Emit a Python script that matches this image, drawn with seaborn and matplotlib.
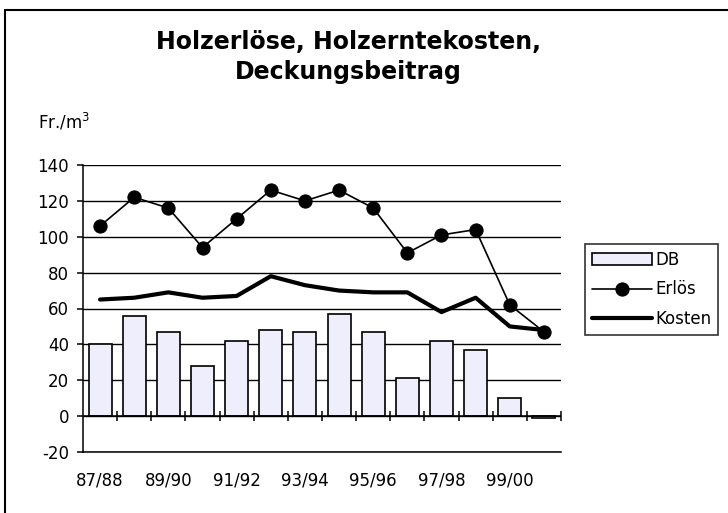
import numpy as np
import matplotlib
matplotlib.use('Agg')
import matplotlib.pyplot as plt
import seaborn as sns

# Data (Fr./m3 per season)
categories = ['87/88', '88/89', '89/90', '90/91', '91/92', '92/93', '93/94',
              '94/95', '95/96', '96/97', '97/98', '98/99', '99/00', '00/01']
db = [40, 56, 47, 28, 42, 48, 47, 57, 47, 21, 42, 37, 10, -1]
erloes = [106, 122, 116, 94, 110, 126, 120, 126, 116, 91, 101, 104, 62, 47]
kosten = [65, 66, 69, 66, 67, 78, 73, 70, 69, 69, 58, 66, 50, 48]
yticks = [-20, 0, 20, 40, 60, 80, 100, 120, 140]

sns.set_style('white')
plt.rcParams['font.family'] = ['DejaVu Sans']
plt.rcParams['text.color'] = 'black'
plt.rcParams['xtick.color'] = 'black'
plt.rcParams['ytick.color'] = 'black'
plt.rcParams['axes.unicode_minus'] = False

fig = plt.figure(figsize=(7.28, 5.13), dpi=100)
ax = fig.add_axes([83 / 728, 1 - 452 / 513, (561 - 83) / 728, (452 - 165) / 513])

x = np.arange(len(categories))

# Bars (DB)
sns.barplot(x=categories, y=db, color='#EEEEFD', saturation=1, edgecolor='black',
            linewidth=1.2, width=0.67, errorbar=None, label='DB', ax=ax, zorder=2)

# Lines
sns.lineplot(x=x, y=erloes, color='black', linewidth=1.2, marker='o', markersize=9.5,
             markeredgecolor='black', label='Erlös', ax=ax, zorder=4)
sns.lineplot(x=x, y=kosten, color='black', linewidth=3, label='Kosten', ax=ax, zorder=3)

# Category axis at zero with tick marks between categories
ax.axhline(0, color='black', linewidth=1.1, zorder=3)
ax.plot(x + 0.5, np.zeros(len(x)), linestyle='none', marker='|', markersize=7,
        markeredgewidth=1.1, color='black', zorder=3)

ax.set_xlim(-0.5, len(categories) - 0.5)
ax.set_ylim(-20, 140)
ax.set_yticks(yticks)
ax.set_xticks(x[::2])
ax.set_xticklabels(categories[::2])
ax.set_xlabel('')
ax.set_ylabel('')

ax.yaxis.grid(True, color='black', linewidth=1.0)
ax.xaxis.grid(False)
ax.set_axisbelow(True)
for side in ['top', 'right']:
    ax.spines[side].set_visible(False)
for side in ['left', 'bottom']:
    ax.spines[side].set_color('black')
    ax.spines[side].set_linewidth(1.1)

ax.tick_params(axis='y', left=True, length=4, width=1.1, color='black', pad=6,
               labelsize=12, labelcolor='black')
ax.tick_params(axis='x', bottom=False, length=0, pad=14, labelsize=12, labelcolor='black')

# Legend
handles, labels = ax.get_legend_handles_labels()
order = [labels.index(k) for k in ['DB', 'Erlös', 'Kosten']]
leg = ax.legend([handles[i] for i in order], [labels[i] for i in order],
                loc='upper left', bbox_to_anchor=(585 / 728, 1 - 244 / 513),
                bbox_transform=fig.transFigure, borderaxespad=0, fontsize=12,
                frameon=True, fancybox=False, handlelength=3.6, handletextpad=0.2,
                labelspacing=0.7, borderpad=0.4, numpoints=1)
leg.get_frame().set_edgecolor('black')
leg.get_frame().set_linewidth(1.2)
for t in leg.get_texts():
    t.set_color('black')

# Titles
fig.text(348 / 728, 1 - 30 / 513, 'Holzerlöse, Holzerntekosten,\nDeckungsbeitrag',
         ha='center', va='top', fontsize=17, fontweight='bold', linespacing=1.3,
         color='black')
fig.text(38 / 728, 1 - 128 / 513, 'Fr./m$^3$', ha='left', va='baseline', fontsize=12,
         color='black')

# Chart area frame (top and left edges visible)
fig.add_artist(plt.Line2D([5 / 728, 5 / 728], [0, 1 - 10 / 513],
                          transform=fig.transFigure, color='black', linewidth=1.5))
fig.add_artist(plt.Line2D([5 / 728, 1], [1 - 10 / 513, 1 - 10 / 513],
                          transform=fig.transFigure, color='black', linewidth=1.5))

fig.savefig('out.png', dpi=100, facecolor='white')
